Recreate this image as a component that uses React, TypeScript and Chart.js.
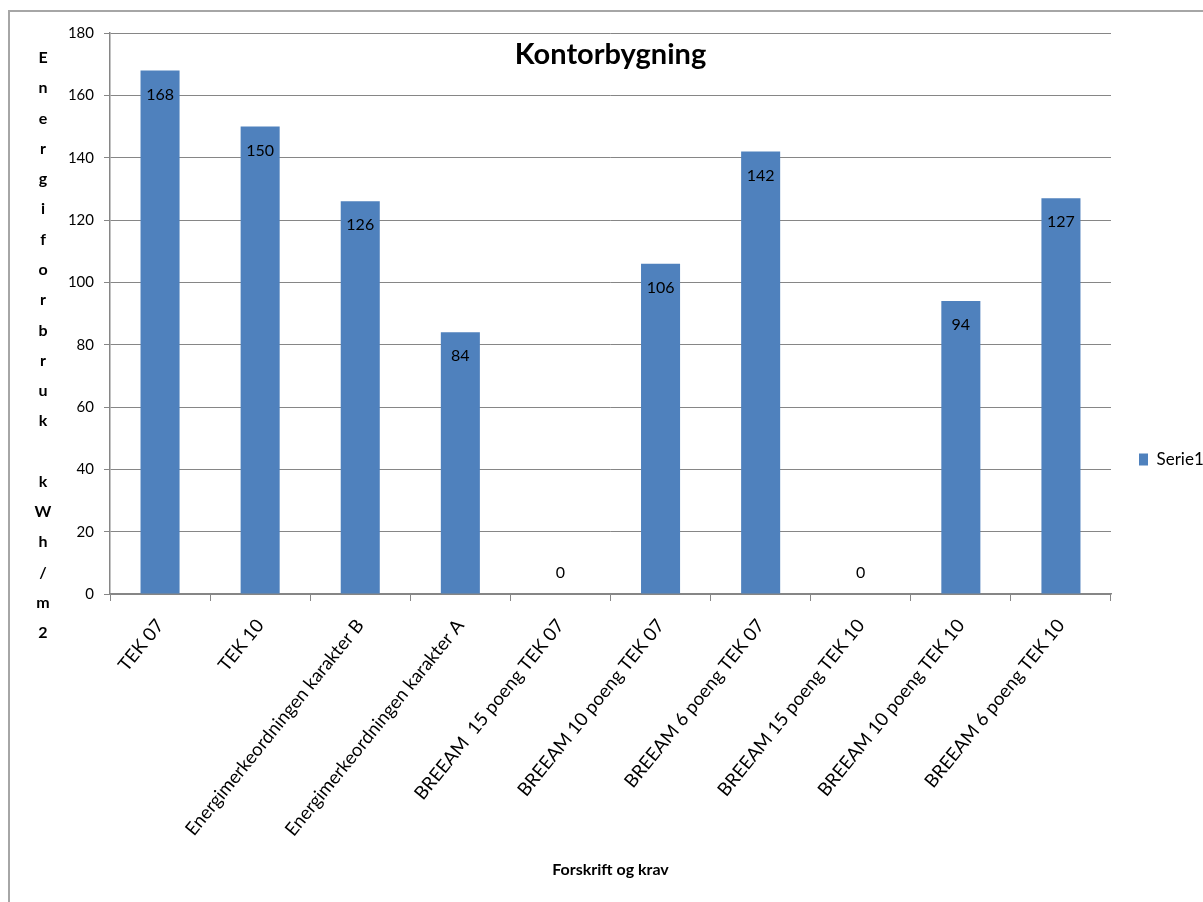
import React, { useEffect, useRef } from "react";
import { Chart, registerables } from "chart.js";

Chart.register(...registerables);

const categories: string[] = [
  "TEK 07",
  "TEK 10",
  "Energimerkeordningen karakter B",
  "Energimerkeordningen karakter A",
  "BREEAM  15 poeng TEK 07",
  "BREEAM 10 poeng TEK 07",
  "BREEAM 6 poeng TEK 07",
  "BREEAM 15 poeng TEK 10",
  "BREEAM 10 poeng TEK 10",
  "BREEAM 6 poeng TEK 10",
];
const serie1: number[] = [168, 150, 126, 84, 0, 106, 142, 0, 94, 127];
const seriesName = "Serie1";
const chartTitle = "Kontorbygning";
const xTitle = "Forskrift og krav";
const yTitle = "Energiforbruk kWh/m2";
const yMin = 0;
const yMax = 180;
const yStep = 20;

const FONT = "Lato, 'Open Sans', sans-serif";
const BAR = "#4F81BD";
const GRID = "#868686";

const W = 1203;
const H = 902;

const extras = {
  id: "extras",
  beforeDraw(chart: any) {
    const ctx = chart.ctx;
    ctx.save();
    ctx.fillStyle = "#fff";
    ctx.fillRect(0, 0, chart.width, chart.height);
    // outer frame (top + left edges visible)
    ctx.strokeStyle = "#a6a6a6";
    ctx.lineWidth = 2;
    ctx.beginPath();
    ctx.moveTo(W, 11);
    ctx.lineTo(9, 11);
    ctx.lineTo(9, H);
    ctx.stroke();
    ctx.restore();
  },
  afterDatasetsDraw(chart: any) {
    const ctx = chart.ctx;
    const meta = chart.getDatasetMeta(0);
    ctx.save();
    ctx.font = `16px ${FONT}`;
    ctx.fillStyle = "#000";
    ctx.textAlign = "center";
    ctx.textBaseline = "middle";
    meta.data.forEach((bar: any, i: number) => {
      const v = serie1[i];
      const y = v > 0 ? bar.y + 24 : bar.base - 21;
      ctx.fillText(String(v), bar.x, y);
    });
    ctx.restore();
  },
  afterDraw(chart: any) {
    const ctx = chart.ctx;
    const area = chart.chartArea;
    ctx.save();
    ctx.fillStyle = "#000";
    ctx.textAlign = "center";
    ctx.textBaseline = "middle";
    ctx.font = `bold 29px ${FONT}`;
    ctx.fillText(chartTitle, (area.left + area.right) / 2, 55);
    ctx.font = `bold 16px ${FONT}`;
    const chars = yTitle.split("");
    const top = 58;
    const bottom = 633;
    const step = (bottom - top) / (chars.length - 1);
    chars.forEach((c, i) => {
      if (c !== " ") ctx.fillText(c, 43, top + i * step);
    });
    ctx.restore();
  },
};

export default function App() {
  const ref = useRef<HTMLCanvasElement | null>(null);
  useEffect(() => {
    document.body.style.margin = "0";
    if (!ref.current) return;
    const chart = new Chart(ref.current, {
      type: "bar",
      data: {
        labels: categories,
        datasets: [
          {
            label: seriesName,
            data: serie1,
            backgroundColor: BAR,
            borderWidth: 0,
            categoryPercentage: 1,
            barPercentage: 0.39,
          },
        ],
      },
      options: {
        responsive: false,
        animation: false,
        devicePixelRatio: 1,
        layout: { padding: { top: 33, left: 0, right: 0, bottom: 16 } },
        plugins: {
          title: { display: false },
          tooltip: { enabled: false },
          legend: {
            position: "right",
            maxWidth: 92,
            labels: {
              boxWidth: 9,
              boxHeight: 12,
              padding: 28,
              color: "#000",
              font: { family: FONT, size: 17 },
            },
          },
        },
        scales: {
          x: {
            afterFit: (s: any) => {
              s.height = 292;
            },
            grid: {
              offset: true,
              drawOnChartArea: false,
              drawTicks: true,
              tickLength: 7,
              color: GRID,
            },
            border: { color: GRID, width: 1.5 },
            ticks: {
              autoSkip: false,
              maxRotation: 51,
              minRotation: 51,
              padding: 14,
              color: "#000",
              font: { family: FONT, size: 18.5 },
            },
            title: {
              display: true,
              text: xTitle,
              color: "#000",
              font: { family: FONT, size: 16, weight: "bold" },
              padding: { top: 0, bottom: 7 },
            },
          },
          y: {
            min: yMin,
            max: yMax,
            afterFit: (s: any) => {
              s.width = 110;
            },
            grid: {
              color: GRID,
              lineWidth: 1,
              tickLength: 6,
            },
            border: { color: GRID, width: 1.5 },
            ticks: {
              stepSize: yStep,
              padding: 10,
              color: "#000",
              font: { family: FONT, size: 15 },
            },
          },
        },
      },
      plugins: [extras],
    });
    return () => chart.destroy();
  }, []);
  return (
    <div style={{ width: W, height: H, overflow: "hidden" }}>
      <canvas ref={ref} width={W} height={H} style={{ display: "block" }} />
    </div>
  );
}
